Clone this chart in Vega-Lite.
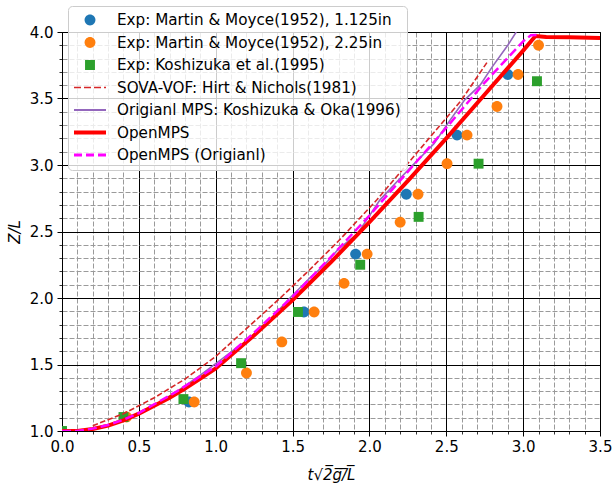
{
  "$schema": "https://vega.github.io/schema/vega-lite/v6.json",
  "width": 538,
  "height": 399,
  "autosize": "none",
  "padding": {"left": 62, "top": 32, "right": 13, "bottom": 52},
  "background": "white",
  "config": {"font": "DejaVu Sans", "view": {"stroke": "black", "strokeWidth": 1},
    "legend": {"labelFont": "DejaVu Sans", "labelFontSize": 15.2, "labelColor": "black", "labelLimit": 500, "labelOffset": 11,
      "clipHeight": 16, "rowPadding": 5.5, "padding": 6, "symbolSize": 1024, "symbolStrokeWidth": 0, "symbolOpacity": 1,
      "fillColor": "rgba(255,255,255,0.8)", "strokeColor": "#cccccc", "cornerRadius": 4}},
  "data": {"values": [
    {"series": "Exp: Martin & Moyce(1952), 1.125in", "x": 0.826, "y": 1.218},
    {"series": "Exp: Martin & Moyce(1952), 1.125in", "x": 1.574, "y": 1.895},
    {"series": "Exp: Martin & Moyce(1952), 1.125in", "x": 1.91, "y": 2.33},
    {"series": "Exp: Martin & Moyce(1952), 1.125in", "x": 2.24, "y": 2.78},
    {"series": "Exp: Martin & Moyce(1952), 1.125in", "x": 2.57, "y": 3.225},
    {"series": "Exp: Martin & Moyce(1952), 1.125in", "x": 2.9, "y": 3.68},
    {"series": "Exp: Martin & Moyce(1952), 2.25in", "x": 0.42, "y": 1.105},
    {"series": "Exp: Martin & Moyce(1952), 2.25in", "x": 0.86, "y": 1.218},
    {"series": "Exp: Martin & Moyce(1952), 2.25in", "x": 1.2, "y": 1.436},
    {"series": "Exp: Martin & Moyce(1952), 2.25in", "x": 1.43, "y": 1.67},
    {"series": "Exp: Martin & Moyce(1952), 2.25in", "x": 1.64, "y": 1.895},
    {"series": "Exp: Martin & Moyce(1952), 2.25in", "x": 1.835, "y": 2.11},
    {"series": "Exp: Martin & Moyce(1952), 2.25in", "x": 1.985, "y": 2.33},
    {"series": "Exp: Martin & Moyce(1952), 2.25in", "x": 2.2, "y": 2.57},
    {"series": "Exp: Martin & Moyce(1952), 2.25in", "x": 2.316, "y": 2.78},
    {"series": "Exp: Martin & Moyce(1952), 2.25in", "x": 2.505, "y": 3.01},
    {"series": "Exp: Martin & Moyce(1952), 2.25in", "x": 2.635, "y": 3.225},
    {"series": "Exp: Martin & Moyce(1952), 2.25in", "x": 2.83, "y": 3.44},
    {"series": "Exp: Martin & Moyce(1952), 2.25in", "x": 2.967, "y": 3.68},
    {"series": "Exp: Martin & Moyce(1952), 2.25in", "x": 3.1, "y": 3.9},
    {"series": "Exp: Koshizuka et al.(1995)", "x": 0.0, "y": 1.0},
    {"series": "Exp: Koshizuka et al.(1995)", "x": 0.4, "y": 1.105},
    {"series": "Exp: Koshizuka et al.(1995)", "x": 0.79, "y": 1.24},
    {"series": "Exp: Koshizuka et al.(1995)", "x": 1.165, "y": 1.51},
    {"series": "Exp: Koshizuka et al.(1995)", "x": 1.535, "y": 1.895},
    {"series": "Exp: Koshizuka et al.(1995)", "x": 1.94, "y": 2.25},
    {"series": "Exp: Koshizuka et al.(1995)", "x": 2.32, "y": 2.61},
    {"series": "Exp: Koshizuka et al.(1995)", "x": 2.71, "y": 3.01},
    {"series": "Exp: Koshizuka et al.(1995)", "x": 3.09, "y": 3.63},
    {"series": "SOVA-VOF: Hirt & Nichols(1981)", "x": 0.2, "y": 1.04},
    {"series": "SOVA-VOF: Hirt & Nichols(1981)", "x": 0.4, "y": 1.13},
    {"series": "SOVA-VOF: Hirt & Nichols(1981)", "x": 0.6, "y": 1.25},
    {"series": "SOVA-VOF: Hirt & Nichols(1981)", "x": 0.8, "y": 1.39},
    {"series": "SOVA-VOF: Hirt & Nichols(1981)", "x": 1.0, "y": 1.56},
    {"series": "SOVA-VOF: Hirt & Nichols(1981)", "x": 1.2, "y": 1.77},
    {"series": "SOVA-VOF: Hirt & Nichols(1981)", "x": 1.42, "y": 2.0},
    {"series": "SOVA-VOF: Hirt & Nichols(1981)", "x": 1.6, "y": 2.2},
    {"series": "SOVA-VOF: Hirt & Nichols(1981)", "x": 1.8, "y": 2.43},
    {"series": "SOVA-VOF: Hirt & Nichols(1981)", "x": 2.05, "y": 2.74},
    {"series": "SOVA-VOF: Hirt & Nichols(1981)", "x": 2.3, "y": 3.08},
    {"series": "SOVA-VOF: Hirt & Nichols(1981)", "x": 2.6, "y": 3.49},
    {"series": "SOVA-VOF: Hirt & Nichols(1981)", "x": 2.77, "y": 3.78},
    {"series": "Origianl MPS: Koshizuka & Oka(1996)", "x": 0.0, "y": 1.0},
    {"series": "Origianl MPS: Koshizuka & Oka(1996)", "x": 0.15, "y": 1.005},
    {"series": "Origianl MPS: Koshizuka & Oka(1996)", "x": 0.3, "y": 1.04},
    {"series": "Origianl MPS: Koshizuka & Oka(1996)", "x": 0.45, "y": 1.1},
    {"series": "Origianl MPS: Koshizuka & Oka(1996)", "x": 0.6, "y": 1.19},
    {"series": "Origianl MPS: Koshizuka & Oka(1996)", "x": 0.75, "y": 1.3},
    {"series": "Origianl MPS: Koshizuka & Oka(1996)", "x": 0.9, "y": 1.42},
    {"series": "Origianl MPS: Koshizuka & Oka(1996)", "x": 1.05, "y": 1.55},
    {"series": "Origianl MPS: Koshizuka & Oka(1996)", "x": 1.15, "y": 1.64},
    {"series": "Origianl MPS: Koshizuka & Oka(1996)", "x": 1.22, "y": 1.68},
    {"series": "Origianl MPS: Koshizuka & Oka(1996)", "x": 1.3, "y": 1.77},
    {"series": "Origianl MPS: Koshizuka & Oka(1996)", "x": 1.47, "y": 1.985},
    {"series": "Origianl MPS: Koshizuka & Oka(1996)", "x": 1.62, "y": 2.16},
    {"series": "Origianl MPS: Koshizuka & Oka(1996)", "x": 1.7, "y": 2.24},
    {"series": "Origianl MPS: Koshizuka & Oka(1996)", "x": 1.8, "y": 2.37},
    {"series": "Origianl MPS: Koshizuka & Oka(1996)", "x": 1.92, "y": 2.48},
    {"series": "Origianl MPS: Koshizuka & Oka(1996)", "x": 2.07, "y": 2.74},
    {"series": "Origianl MPS: Koshizuka & Oka(1996)", "x": 2.2, "y": 2.9},
    {"series": "Origianl MPS: Koshizuka & Oka(1996)", "x": 2.3, "y": 3.02},
    {"series": "Origianl MPS: Koshizuka & Oka(1996)", "x": 2.42, "y": 3.16},
    {"series": "Origianl MPS: Koshizuka & Oka(1996)", "x": 2.52, "y": 3.33},
    {"series": "Origianl MPS: Koshizuka & Oka(1996)", "x": 2.62, "y": 3.49},
    {"series": "Origianl MPS: Koshizuka & Oka(1996)", "x": 2.72, "y": 3.6},
    {"series": "Origianl MPS: Koshizuka & Oka(1996)", "x": 2.8, "y": 3.74},
    {"series": "Origianl MPS: Koshizuka & Oka(1996)", "x": 2.9, "y": 3.9},
    {"series": "Origianl MPS: Koshizuka & Oka(1996)", "x": 2.955, "y": 4.0},
    {"series": "OpenMPS", "x": 0.0, "y": 1.0},
    {"series": "OpenMPS", "x": 0.1, "y": 1.0},
    {"series": "OpenMPS", "x": 0.2, "y": 1.015},
    {"series": "OpenMPS", "x": 0.3, "y": 1.04},
    {"series": "OpenMPS", "x": 0.4, "y": 1.08},
    {"series": "OpenMPS", "x": 0.5, "y": 1.13},
    {"series": "OpenMPS", "x": 0.6, "y": 1.19},
    {"series": "OpenMPS", "x": 0.7, "y": 1.25},
    {"series": "OpenMPS", "x": 0.8, "y": 1.32},
    {"series": "OpenMPS", "x": 0.9, "y": 1.395},
    {"series": "OpenMPS", "x": 1.0, "y": 1.47},
    {"series": "OpenMPS", "x": 1.25, "y": 1.72},
    {"series": "OpenMPS", "x": 1.5, "y": 1.985},
    {"series": "OpenMPS", "x": 1.75, "y": 2.27},
    {"series": "OpenMPS", "x": 2.0, "y": 2.57},
    {"series": "OpenMPS", "x": 2.25, "y": 2.88},
    {"series": "OpenMPS", "x": 2.5, "y": 3.2},
    {"series": "OpenMPS", "x": 2.75, "y": 3.53},
    {"series": "OpenMPS", "x": 3.0, "y": 3.86},
    {"series": "OpenMPS", "x": 3.08, "y": 3.97},
    {"series": "OpenMPS", "x": 3.15, "y": 3.962},
    {"series": "OpenMPS", "x": 3.3, "y": 3.96},
    {"series": "OpenMPS", "x": 3.5, "y": 3.955},
    {"series": "OpenMPS (Origianl)", "x": 0.0, "y": 1.0},
    {"series": "OpenMPS (Origianl)", "x": 0.1, "y": 1.0},
    {"series": "OpenMPS (Origianl)", "x": 0.2, "y": 1.018},
    {"series": "OpenMPS (Origianl)", "x": 0.3, "y": 1.045},
    {"series": "OpenMPS (Origianl)", "x": 0.4, "y": 1.085},
    {"series": "OpenMPS (Origianl)", "x": 0.5, "y": 1.135},
    {"series": "OpenMPS (Origianl)", "x": 0.75, "y": 1.3},
    {"series": "OpenMPS (Origianl)", "x": 1.0, "y": 1.485},
    {"series": "OpenMPS (Origianl)", "x": 1.25, "y": 1.74},
    {"series": "OpenMPS (Origianl)", "x": 1.5, "y": 2.01},
    {"series": "OpenMPS (Origianl)", "x": 1.75, "y": 2.31},
    {"series": "OpenMPS (Origianl)", "x": 2.0, "y": 2.62},
    {"series": "OpenMPS (Origianl)", "x": 2.25, "y": 2.95},
    {"series": "OpenMPS (Origianl)", "x": 2.5, "y": 3.28},
    {"series": "OpenMPS (Origianl)", "x": 2.75, "y": 3.62},
    {"series": "OpenMPS (Origianl)", "x": 3.0, "y": 3.93},
    {"series": "OpenMPS (Origianl)", "x": 3.05, "y": 3.975},
    {"series": "OpenMPS (Origianl)", "x": 3.1, "y": 3.978}
  ]},
  "resolve": {"axis": {"x": "independent", "y": "independent"}},
  "layer": [
    {
      "transform": [{"filter": {"field": "series", "equal": "Exp: Martin & Moyce(1952), 1.125in"}}],
      "mark": {"type": "point", "filled": true, "opacity": 1, "size": 1024, "strokeWidth": 0, "clip": true},
      "encoding": {
        "x": {"field": "x", "type": "quantitative", "scale": {"domain": [0, 3.5], "nice": false, "zero": false},
          "axis": {"orient": "bottom", "values": [0.1,0.2,0.3,0.4,0.6,0.7,0.8,0.9,1.1,1.2,1.3,1.4,1.6,1.7,1.8,1.9,2.1,2.2,2.3,2.4,2.6,2.7,2.8,2.9,3.1,3.2,3.3,3.4],
            "labels": false, "domain": false, "ticks": true, "tickSize": 3, "tickColor": "black", "tickWidth": 0.8,
            "grid": true, "gridColor": "#9a9a9a", "gridDash": [5, 2], "gridWidth": 1, "title": null}},
        "y": {"field": "y", "type": "quantitative", "scale": {"domain": [1, 4], "nice": false, "zero": false},
          "axis": {"orient": "left", "values": [1.1,1.2,1.3,1.4,1.6,1.7,1.8,1.9,2.1,2.2,2.3,2.4,2.6,2.7,2.8,2.9,3.1,3.2,3.3,3.4,3.6,3.7,3.8,3.9],
            "labels": false, "domain": false, "ticks": true, "tickSize": 3, "tickColor": "black", "tickWidth": 0.8,
            "grid": true, "gridColor": "#9a9a9a", "gridDash": [5, 2], "gridWidth": 1, "title": null}},
        "color": {"field": "series", "type": "nominal", "title": null,
          "scale": {"domain": ["Exp: Martin & Moyce(1952), 1.125in", "Exp: Martin & Moyce(1952), 2.25in", "Exp: Koshizuka et al.(1995)", "SOVA-VOF: Hirt & Nichols(1981)", "Origianl MPS: Koshizuka & Oka(1996)", "OpenMPS", "OpenMPS (Origianl)"],
            "range": ["#1f77b4", "#ff7f0e", "#2ca02c", "#d62728", "#9467bd", "#ff0000", "#ff00ff"]},
          "legend": {"orient": "none", "legendX": 6, "legendY": -26, "title": null}},
        "shape": {"field": "series", "type": "nominal", "title": null,
          "scale": {"domain": ["Exp: Martin & Moyce(1952), 1.125in", "Exp: Martin & Moyce(1952), 2.25in", "Exp: Koshizuka et al.(1995)", "SOVA-VOF: Hirt & Nichols(1981)", "Origianl MPS: Koshizuka & Oka(1996)", "OpenMPS", "OpenMPS (Origianl)"],
            "range": [
              "M -0.34 0 A 0.34 0.34 0 1 0 0.34 0 A 0.34 0.34 0 1 0 -0.34 0 Z",
              "M -0.34 0 A 0.34 0.34 0 1 0 0.34 0 A 0.34 0.34 0 1 0 -0.34 0 Z",
              "M -0.31 -0.31 H 0.31 V 0.31 H -0.31 Z",
              "M -1 -0.05 H -0.5625 V 0.05 H -1 Z M -0.375 -0.05 H 0.0625 V 0.05 H -0.375 Z M 0.25 -0.05 H 0.6875 V 0.05 H 0.25 Z M 0.875 -0.05 H 1 V 0.05 H 0.875 Z",
              "M -1 -0.0625 H 1 V 0.0625 H -1 Z",
              "M -1 -0.125 H 1 V 0.125 H -1 Z",
              "M -1 -0.09 H -0.5 V 0.09 H -1 Z M -0.25 -0.09 H 0.25 V 0.09 H -0.25 Z M 0.5 -0.09 H 1 V 0.09 H 0.5 Z"
            ]}}
      }
    },
    {
      "transform": [{"filter": {"field": "series", "equal": "Exp: Martin & Moyce(1952), 2.25in"}}],
      "mark": {"type": "point", "filled": true, "opacity": 1, "size": 1024, "strokeWidth": 0, "clip": true},
      "encoding": {
        "x": {"field": "x", "type": "quantitative",
          "axis": {"orient": "bottom", "values": [0, 0.5, 1, 1.5, 2, 2.5, 3, 3.5], "format": ".1f",
            "grid": true, "gridColor": "black", "gridWidth": 1, "tickSize": 5, "tickColor": "black", "tickWidth": 1,
            "domain": true, "domainColor": "black", "domainWidth": 1,
            "labelFont": "DejaVu Sans", "labelFontSize": 15, "labelColor": "black", "labelPadding": 3, "labelFlush": false, "labelOverlap": false,
            "title": "t\u221a2\u0305g\u0305/\u0305L\u0305", "titleFont": "DejaVu Sans", "titleFontSize": 15, "titleFontStyle": "italic", "titleFontWeight": "normal", "titleColor": "black", "titlePadding": 13}},
        "y": {"field": "y", "type": "quantitative",
          "axis": {"orient": "left", "values": [1, 1.5, 2, 2.5, 3, 3.5, 4], "format": ".1f",
            "grid": true, "gridColor": "black", "gridWidth": 1, "tickSize": 5, "tickColor": "black", "tickWidth": 1,
            "domain": true, "domainColor": "black", "domainWidth": 1,
            "labelFont": "DejaVu Sans", "labelFontSize": 15, "labelColor": "black", "labelPadding": 4, "labelFlush": false, "labelOverlap": false,
            "title": "Z/L", "titleFont": "DejaVu Sans", "titleFontSize": 15, "titleFontStyle": "italic", "titleFontWeight": "normal", "titleColor": "black", "titlePadding": 7}},
        "color": {"field": "series", "type": "nominal", "title": null},
        "shape": {"field": "series", "type": "nominal", "title": null}
      }
    },
    {
      "transform": [{"filter": {"field": "series", "equal": "Exp: Koshizuka et al.(1995)"}}],
      "mark": {"type": "point", "filled": true, "opacity": 1, "size": 1024, "strokeWidth": 0, "clip": true},
      "encoding": {
        "x": {"field": "x", "type": "quantitative", "axis": null},
        "y": {"field": "y", "type": "quantitative", "axis": null},
        "color": {"field": "series", "type": "nominal", "title": null},
        "shape": {"field": "series", "type": "nominal", "title": null}
      }
    },
    {
      "transform": [{"filter": {"field": "series", "equal": "SOVA-VOF: Hirt & Nichols(1981)"}}],
      "mark": {"type": "line", "strokeWidth": 1.6, "strokeDash": [5.5, 2.4], "clip": true},
      "encoding": {
        "x": {"field": "x", "type": "quantitative", "axis": null},
        "y": {"field": "y", "type": "quantitative", "axis": null},
        "color": {"field": "series", "type": "nominal", "title": null}
      }
    },
    {
      "transform": [{"filter": {"field": "series", "equal": "Origianl MPS: Koshizuka & Oka(1996)"}}],
      "mark": {"type": "line", "strokeWidth": 1.6, "clip": true},
      "encoding": {
        "x": {"field": "x", "type": "quantitative", "axis": null},
        "y": {"field": "y", "type": "quantitative", "axis": null},
        "color": {"field": "series", "type": "nominal", "title": null}
      }
    },
    {
      "transform": [{"filter": {"field": "series", "equal": "OpenMPS"}}],
      "mark": {"type": "line", "strokeWidth": 4, "clip": true},
      "encoding": {
        "x": {"field": "x", "type": "quantitative", "axis": null},
        "y": {"field": "y", "type": "quantitative", "axis": null},
        "color": {"field": "series", "type": "nominal", "title": null}
      }
    },
    {
      "transform": [{"filter": {"field": "series", "equal": "OpenMPS (Origianl)"}}],
      "mark": {"type": "line", "strokeWidth": 2.5, "strokeDash": [9, 4], "clip": true},
      "encoding": {
        "x": {"field": "x", "type": "quantitative", "axis": null},
        "y": {"field": "y", "type": "quantitative", "axis": null},
        "color": {"field": "series", "type": "nominal", "title": null}
      }
    }
  ]
}
